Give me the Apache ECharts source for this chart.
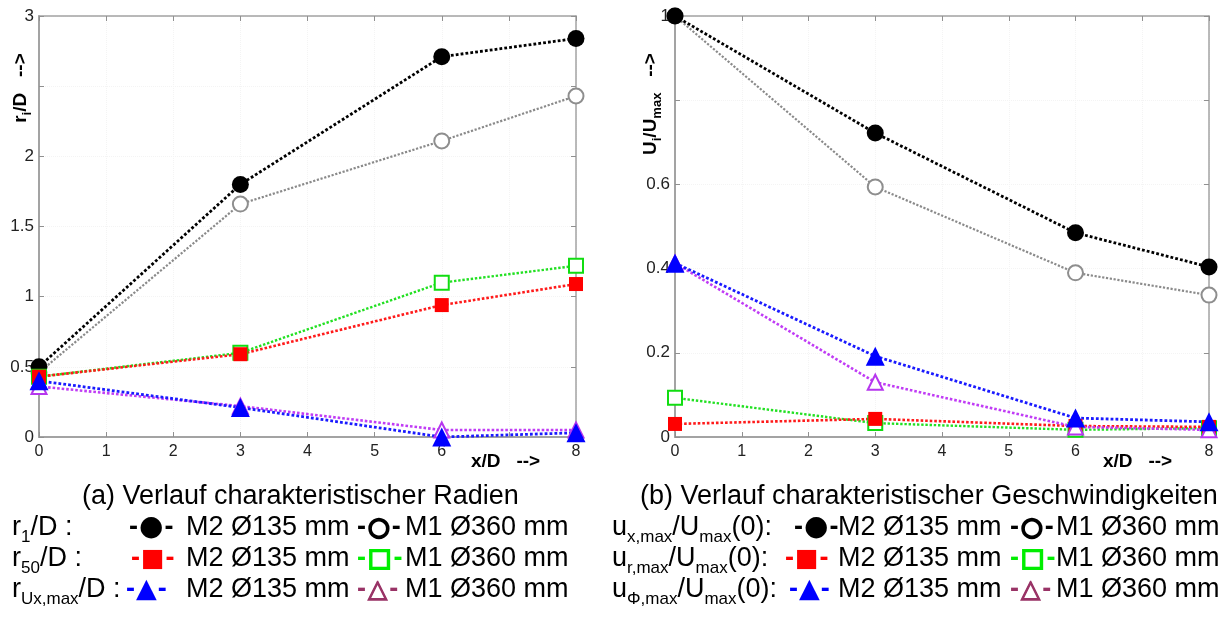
<!DOCTYPE html>
<html><head><meta charset="utf-8">
<script src="https://cdn.jsdelivr.net/npm/echarts@6/dist/echarts.min.js"></script>
<style>html,body{margin:0;padding:0;background:#fff}#c{width:1229px;height:619px}</style>
</head><body><div id="c"></div><script>
// ---- data ----
const xD = [0, 3, 6, 8];
// (a) radii r/D
const r1M2 = [0.50, 1.80, 2.71, 2.84];
const r1M1 = [0.46, 1.66, 2.11, 2.43];
const r50M2 = [0.43, 0.59, 0.94, 1.09];
const r50M1 = [0.43, 0.60, 1.10, 1.22];
const rUxM2 = [0.40, 0.21, 0.00, 0.03];
const rUxM1 = [0.36, 0.22, 0.05, 0.05];
// (b) velocities U/Umax
const uxM2 = [1.000, 0.722, 0.485, 0.404];
const uxM1 = [1.000, 0.594, 0.390, 0.337];
const urM2 = [0.031, 0.043, 0.026, 0.024];
const urM1 = [0.093, 0.033, 0.017, 0.021];
const uphiM2 = [0.413, 0.192, 0.045, 0.036];
const uphiM1 = [0.413, 0.130, 0.024, 0.017];
// tick settings
const xTicks = {min: 0, max: 8, interval: 1, hide: [7]};
const yTicksA = {min: 0, max: 3, interval: 0.5, hide: [2.5]};
const yTicksB = {min: 0, max: 1, interval: 0.2, hide: [0.8]};

const F = "'Liberation Sans', Arial, sans-serif";
const SYM = "'DejaVu Sans', sans-serif";
const AX = '#a3a3a3';

function pts(ys) { return xD.map((x, i) => [x, ys[i]]); }
function hideFmt(hide) {
  return v => hide.some(h => Math.abs(h - v) < 1e-9) ? '' : String(+v.toFixed(2));
}
function xAxes(g) {
  const base = {gridIndex: g, type: 'value', min: xTicks.min, max: xTicks.max, interval: xTicks.interval};
  return [
    Object.assign({}, base, {
      position: 'bottom',
      axisLine: {show: true, onZero: false, lineStyle: {color: AX, width: 2}},
      axisTick: {show: true, inside: true, length: 5, lineStyle: {color: '#909090'}},
      axisLabel: {color: '#222', fontSize: 16, fontFamily: F, margin: 7, formatter: hideFmt(xTicks.hide)},
      splitLine: {show: true, lineStyle: {color: '#f4f4f4', type: 'dotted'}}
    }),
    Object.assign({}, base, {
      position: 'top',
      axisLine: {show: true, onZero: false, lineStyle: {color: AX, width: 1.5}},
      axisTick: {show: true, inside: true, length: 5, lineStyle: {color: '#909090'}},
      axisLabel: {show: false}, splitLine: {show: false}
    })
  ];
}
function yAxes(g, t) {
  const base = {gridIndex: g, type: 'value', min: t.min, max: t.max, interval: t.interval};
  return [
    Object.assign({}, base, {
      position: 'left',
      axisLine: {show: true, onZero: false, lineStyle: {color: AX, width: 2}},
      axisTick: {show: true, inside: true, length: 5, lineStyle: {color: '#909090'}},
      axisLabel: {color: '#222', fontSize: 17, fontFamily: F, margin: 5, formatter: hideFmt(t.hide)},
      splitLine: {show: true, lineStyle: {color: '#f4f4f4', type: 'dotted'}}
    }),
    Object.assign({}, base, {
      position: 'right',
      axisLine: {show: true, onZero: false, lineStyle: {color: AX, width: 1.5}},
      axisTick: {show: true, inside: true, length: 5, lineStyle: {color: '#909090'}},
      axisLabel: {show: false}, splitLine: {show: false}
    })
  ];
}
const styles = {
  gray:  {symbol: 'emptyCircle', symbolSize: 15, color: '#8e8e8e', line: '#8a8a8a', lw: 2.2},
  black: {symbol: 'circle', symbolSize: 17, color: '#000000', line: '#000000', lw: 2.8},
  green: {symbol: 'emptyRect', symbolSize: 14, color: '#11dd11', line: '#22e022', lw: 2.4},
  red:   {symbol: 'rect', symbolSize: 14, color: '#ff0000', line: '#ff1a1a', lw: 2.6},
  mag:   {symbol: 'emptyTriangle', symbolSize: 15, color: '#b636ee', line: '#c03cf5', lw: 2.6},
  blue:  {symbol: 'triangle', symbolSize: 19, color: '#0000ff', line: '#1a1aff', lw: 2.8}
};
function ser(name, g, ys, st) {
  const s = styles[st];
  return {
    name, type: 'line', xAxisIndex: g * 2, yAxisIndex: g * 2, data: pts(ys),
    symbol: s.symbol, symbolSize: s.symbolSize, clip: false, silent: true,
    itemStyle: {color: s.color, borderColor: s.color, borderWidth: s.symbol.startsWith('empty') ? 2 : 0},
    lineStyle: {color: s.line, width: s.lw, type: [s.lw, s.lw * 0.75]},
    emphasis: {disabled: true}
  };
}

// ---- legend / caption text (rich) ----
const FS = 27;
const rich = {
  t: {fontSize: FS, fontFamily: F, fill: '#000', lineHeight: 36},
  s: {fontSize: 17, fontFamily: F, fill: '#000', verticalAlign: 'bottom'},
  dk: {fontSize: FS, fontFamily: F, fontWeight: 'bold', fill: '#000', lineHeight: 36},
  dr: {fontSize: FS, fontFamily: F, fontWeight: 'bold', fill: '#ff0000', lineHeight: 36},
  dg: {fontSize: FS, fontFamily: F, fontWeight: 'bold', fill: '#00ee00', lineHeight: 36},
  db: {fontSize: FS, fontFamily: F, fontWeight: 'bold', fill: '#0000ff', lineHeight: 36},
  dm: {fontSize: FS, fontFamily: F, fontWeight: 'bold', fill: '#993366', lineHeight: 36},
  gc: {fontSize: 28, fontFamily: SYM, fill: '#000', padding: [0, 1, 0, 1]},
  go: {fontSize: 25, fontFamily: SYM, fill: '#000', stroke: '#000', lineWidth: 2.2, padding: [0, 2, 0, 2]},
  gs: {fontSize: 25, fontFamily: SYM, fill: '#ff0000', padding: [0, 1, 0, 1]},
  gq: {fontSize: 25, fontFamily: SYM, fill: '#00ee00', stroke: '#00ee00', lineWidth: 2, padding: [0, 2, 0, 2]},
  gt: {fontSize: 27, fontFamily: SYM, fill: '#0000ff', padding: [0, 1, 0, 1]},
  gu: {fontSize: 25, fontFamily: SYM, fill: '#993366', stroke: '#993366', lineWidth: 1.2, padding: [0, 2, 0, 2]},
  ax: {fontSize: 19, fontFamily: F, fontWeight: 'bold', fill: '#000', lineHeight: 26},
  axs: {fontSize: 13, fontFamily: F, fontWeight: 'bold', fill: '#000', verticalAlign: 'bottom'}
};
function txt(x, y, text, extra) {
  return Object.assign({type: 'text', x, y, silent: true, z: 10,
    style: {text, rich, fill: '#000', font: FS + 'px ' + F, align: 'left', verticalAlign: 'middle'}}, extra || {});
}
const rowY = [528, 559, 590];
const capY = 497;
const labelsA = ['{t|r}{s|1}{t|/D :}', '{t|r}{s|50}{t|/D :}', '{t|r}{s|Ux,max}{t|/D :}'];
const labelsB = ['{t|u}{s|x,max}{t|/U}{s|max}{t|(0):}', '{t|u}{s|r,max}{t|/U}{s|max}{t|(0):}', '{t|u}{s|Φ,max}{t|/U}{s|max}{t|(0):}'];
const symM2 = ['{dk|-}{gc|●}{dk|-}', '{dr|-}{gs|■}{dr|-}', '{db|-}{gt|▲}{db|-}'];
const symM1 = ['{dk|-}{go|○}{dk|-}', '{dg|-}{gq|□}{dg|-}', '{dm|-}{gu|△}{dm|-}'];
const nameM2 = 'M2 Ø135 mm';
const nameM1 = 'M1 Ø360 mm';
const captionA = '(a) Verlauf charakteristischer Radien';
const captionB = '(b) Verlauf charakteristischer Geschwindigkeiten';

const graphic = [
  txt(82, capY, '{t|' + captionA + '}'),
  txt(640, capY, '{t|' + captionB + '}')
];
const symXA = [129, 131, 126];
const symXB = [794, 785, 789];
rowY.forEach((y, i) => {
  graphic.push(txt(12, y, labelsA[i]));
  graphic.push(txt(symXA[i], y, symM2[i]));
  graphic.push(txt(186, y, '{t|' + nameM2 + '}'));
  graphic.push(txt(357, y, symM1[i]));
  graphic.push(txt(405, y, '{t|' + nameM1 + '}'));
  graphic.push(txt(612, y, labelsB[i]));
  graphic.push(txt(symXB[i], y, symM2[i]));
  graphic.push(txt(838, y, '{t|' + nameM2 + '}'));
  graphic.push(txt(1010, y, symM1[i]));
  graphic.push(txt(1056, y, '{t|' + nameM1 + '}'));
});
// axis names
graphic.push(txt(471, 462, '{ax|x/D   -->}'));
graphic.push(txt(1103, 462, '{ax|x/D   -->}'));
const yNameA = '{ax|r}{axs|i}{ax|/D   -->}';
const yNameB = '{ax|U}{axs|i}{ax|/U}{axs|max}{ax|   -->}';
graphic.push(txt(21, 88, yNameA, {rotation: Math.PI / 2, style: {text: yNameA, rich, align: 'center', verticalAlign: 'middle'}}));
graphic.push(txt(651, 104, yNameB, {rotation: Math.PI / 2, style: {text: yNameB, rich, align: 'center', verticalAlign: 'middle'}}));

const chart = echarts.init(document.getElementById('c'), null, {renderer: 'canvas'});
chart.setOption({
  animation: false,
  backgroundColor: '#fff',
  grid: [
    {left: 39, top: 16, width: 537, height: 421},
    {left: 675, top: 16, width: 534, height: 421}
  ],
  xAxis: [...xAxes(0), ...xAxes(1)],
  yAxis: [...yAxes(0, yTicksA), ...yAxes(1, yTicksB)],
  series: [
    ser('r1/D M1', 0, r1M1, 'gray'),
    ser('r1/D M2', 0, r1M2, 'black'),
    ser('r50/D M1', 0, r50M1, 'green'),
    ser('r50/D M2', 0, r50M2, 'red'),
    ser('rUx,max/D M1', 0, rUxM1, 'mag'),
    ser('rUx,max/D M2', 0, rUxM2, 'blue'),
    ser('ux,max M1', 1, uxM1, 'gray'),
    ser('ux,max M2', 1, uxM2, 'black'),
    ser('ur,max M1', 1, urM1, 'green'),
    ser('ur,max M2', 1, urM2, 'red'),
    ser('uphi,max M1', 1, uphiM1, 'mag'),
    ser('uphi,max M2', 1, uphiM2, 'blue')
  ],
  graphic
});
</script></body></html>
